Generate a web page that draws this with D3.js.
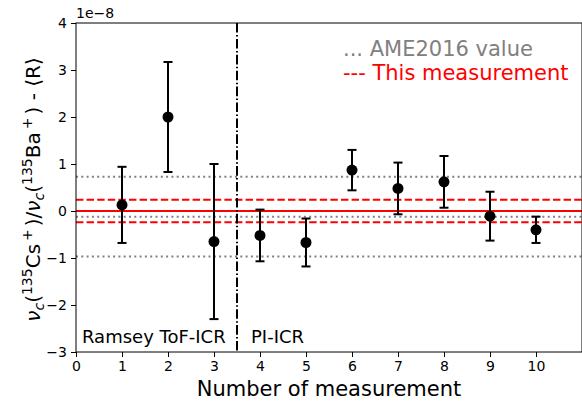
<!DOCTYPE html>
<html>
<head>
<meta charset="utf-8">
<script src="https://cdn.jsdelivr.net/npm/d3@7"></script>
<style>
body { margin: 0; background: #fff; }
svg { font-family: "DejaVu Sans", sans-serif; }
</style>
</head>
<body>
<div id="chart"></div>
<script>
// measurement number, value and error (units of 1e-8)
var measNo = [1, 2, 3, 4, 5, 6, 7, 8, 9, 10];
var measVal = [0.13, 2.0, -0.65, -0.52, -0.67, 0.87, 0.48, 0.62, -0.11, -0.40];
var measErr = [0.81, 1.17, 1.65, 0.55, 0.51, 0.43, 0.55, 0.55, 0.52, 0.28];
// reference lines
var thisValue = 0, thisErr = 0.24;
var ameValue = -0.12, ameErr = 0.85;
var xTicks = [0, 1, 2, 3, 4, 5, 6, 7, 8, 9, 10];
var yTicks = [-3, -2, -1, 0, 1, 2, 3, 4];
var splitAt = 3.5;

var W = 582, H = 403;
var margin = { top: 23, right: 0, bottom: 51, left: 76 };
var svg = d3.select("#chart").append("svg")
    .attr("width", W).attr("height", H);

var x = d3.scaleLinear().domain([0, 11]).range([margin.left, W - margin.right]);
var y = d3.scaleLinear().domain([-3, 4]).range([H - margin.bottom, margin.top]);

// horizontal reference lines
var g = svg.append("g");
[ameValue + ameErr, ameValue, ameValue - ameErr].forEach(function (v) {
    g.append("line")
        .attr("x1", x(0)).attr("x2", x(11))
        .attr("y1", y(v)).attr("y2", y(v))
        .attr("stroke", "#808080").attr("stroke-width", 2)
        .attr("stroke-dasharray", "2,3.3");
});
[thisValue + thisErr, thisValue - thisErr].forEach(function (v) {
    g.append("line")
        .attr("x1", x(0)).attr("x2", x(11))
        .attr("y1", y(v)).attr("y2", y(v))
        .attr("stroke", "#ff0000").attr("stroke-width", 2)
        .attr("stroke-dasharray", "7.4,3.2");
});
g.append("line")
    .attr("x1", x(0)).attr("x2", x(11))
    .attr("y1", y(thisValue)).attr("y2", y(thisValue))
    .attr("stroke", "#ff0000").attr("stroke-width", 2);

// dash-dot separator
svg.append("line")
    .attr("x1", x(splitAt)).attr("x2", x(splitAt))
    .attr("y1", y(4)).attr("y2", y(-3))
    .attr("stroke", "#000").attr("stroke-width", 2)
    .attr("stroke-dasharray", "9.6,2.4,1.5,2.4");

// error bars
var data = measNo.map(function (n, i) { return { n: n, v: measVal[i], e: measErr[i] }; });
var eb = svg.append("g").selectAll("g").data(data).enter().append("g");
eb.append("line")
    .attr("x1", d => x(d.n)).attr("x2", d => x(d.n))
    .attr("y1", d => y(d.v + d.e)).attr("y2", d => y(d.v - d.e))
    .attr("stroke", "#000").attr("stroke-width", 2);
[1, -1].forEach(function (s) {
    eb.append("line")
        .attr("x1", d => x(d.n) - 4.5).attr("x2", d => x(d.n) + 4.5)
        .attr("y1", d => y(d.v + s * d.e)).attr("y2", d => y(d.v + s * d.e))
        .attr("stroke", "#000").attr("stroke-width", 2);
});
eb.append("circle")
    .attr("cx", d => x(d.n)).attr("cy", d => y(d.v))
    .attr("r", 5.5).attr("fill", "#000");

// axes
var xAxis = svg.append("g")
    .attr("transform", "translate(0," + (H - margin.bottom) + ")")
    .call(d3.axisBottom(x).tickValues(xTicks).tickSize(5).tickPadding(4).tickFormat(d3.format("d")));
var yAxis = svg.append("g")
    .attr("transform", "translate(" + margin.left + ",0)")
    .call(d3.axisLeft(y).tickValues(yTicks).tickSize(5).tickPadding(4)
        .tickFormat(function (d) { return d < 0 ? "\u2212" + (-d) : d; }));
[xAxis, yAxis].forEach(function (a) {
    a.selectAll("text").attr("font-size", 14).attr("font-family", "DejaVu Sans").attr("fill", "#000");
    a.selectAll("line").attr("stroke", "#000").attr("stroke-width", 1);
    a.select(".domain").remove();
});

// frame
svg.append("rect")
    .attr("x", x(0)).attr("y", y(4))
    .attr("width", x(11) - x(0)).attr("height", y(-3) - y(4))
    .attr("fill", "none").attr("stroke", "#000").attr("stroke-width", 1);

// offset text
svg.append("text").attr("x", x(0)).attr("y", 18)
    .attr("font-size", 14).text("1e\u22128");

// labels
svg.append("text")
    .attr("x", (x(0) + x(11)) / 2).attr("y", 396)
    .attr("text-anchor", "middle").attr("font-size", 21)
    .text("Number of measurement");

var yl = svg.append("text")
    .attr("transform", "translate(40," + ((y(4) + y(-3)) / 2 + 2) + ") rotate(-90)")
    .attr("text-anchor", "middle").attr("font-size", 20);
function sup(t) { yl.append("tspan").attr("font-size", 14).attr("dy", -8).text(t); }
function back(t) { return yl.append("tspan").attr("dy", 8).text(t); }
function nuc() {
    yl.append("tspan").attr("font-style", "italic").text("\u03bd");
    yl.append("tspan").attr("font-style", "italic").attr("font-size", 14).attr("dy", 4).text("c");
    yl.append("tspan").attr("dy", -4).text("(");
}
nuc();
sup("135");
back("Cs");
yl.append("tspan").attr("font-size", 14).attr("dx", 3).attr("dy", -8).text("+");
back(")/").attr("dx", 3);
nuc();
sup("135");
back("Ba");
yl.append("tspan").attr("font-size", 14).attr("dx", 3).attr("dy", -8).text("+");
back(") - \u27e8R\u27e9").attr("dx", 3);

// annotations
svg.append("text").attr("x", 82).attr("y", 343).attr("font-size", 18).text("Ramsey ToF-ICR");
svg.append("text").attr("x", 251).attr("y", 343).attr("font-size", 18).text("PI-ICR");
svg.append("text").attr("x", 343).attr("y", 56).attr("font-size", 21)
    .attr("fill", "#808080").text("... AME2016 value");
svg.append("text").attr("x", 343).attr("y", 80).attr("font-size", 21)
    .attr("fill", "#ff0000").text("--- This measurement");
</script>
</body>
</html>
